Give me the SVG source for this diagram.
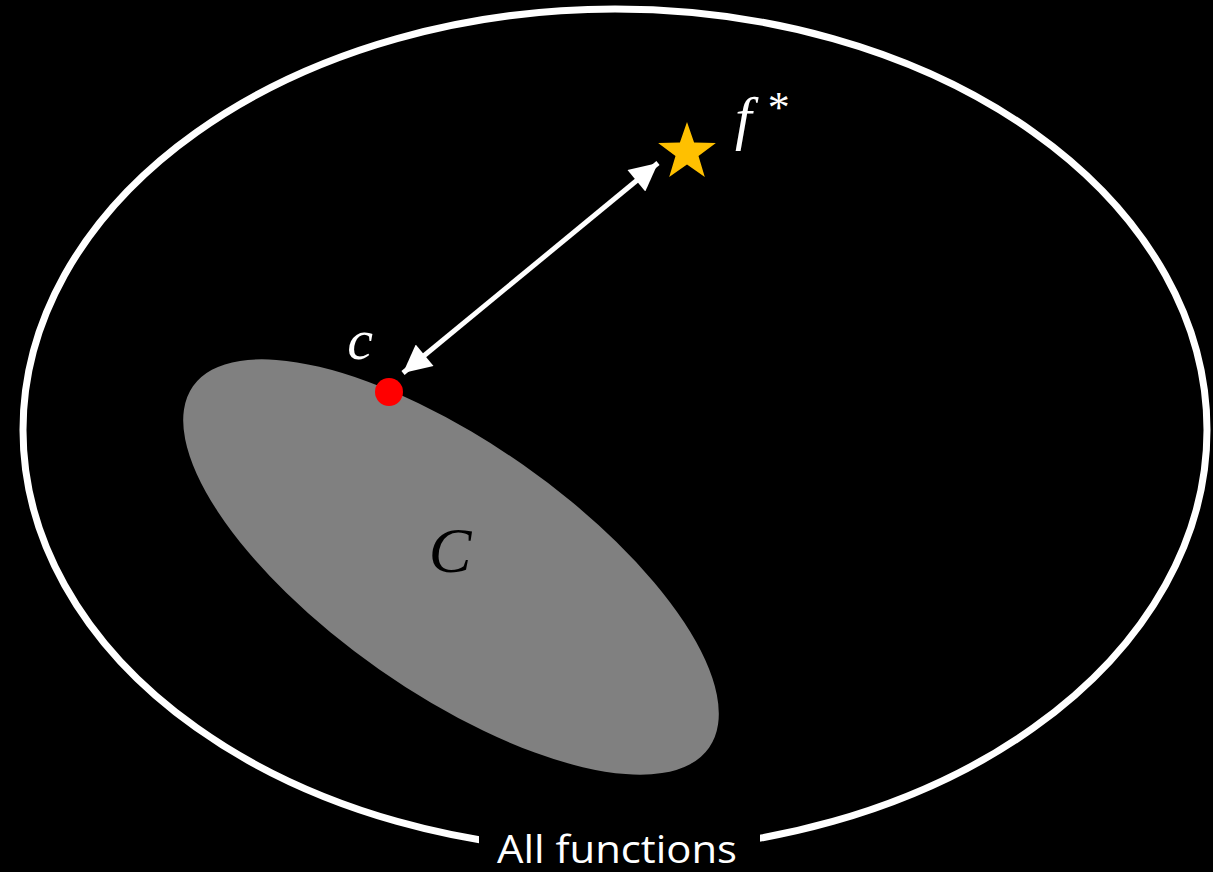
<svg xmlns="http://www.w3.org/2000/svg" width="1213" height="872" viewBox="0 0 1213 872">
<style>
.math{font-family:"Liberation Serif","DejaVu Serif",serif;font-style:italic}
.lbl{font-family:"Open Sans","Liberation Sans",sans-serif;fill:#fff}
</style>
<defs>
<marker id="ah" viewBox="0 0 10 10" refX="10" refY="5" markerWidth="6" markerHeight="5.6" markerUnits="strokeWidth" orient="auto-start-reverse">
<path d="M0,0 L10,5 L0,10 z" fill="#fff"/>
</marker>
</defs>
<rect width="1213" height="872" fill="#000"/>
<g id="all-functions">
<ellipse cx="615" cy="430" rx="592" ry="421" fill="none" stroke="#fff" stroke-width="7"/>
<rect x="479" y="812" width="281" height="60" fill="#000"/>
<text class="lbl" x="617" y="863" font-size="38" text-anchor="middle" textLength="240" lengthAdjust="spacingAndGlyphs">All functions</text>
</g>
<g id="set-C">
<ellipse cx="451" cy="567" rx="315" ry="125" transform="rotate(35 451 567)" fill="#808080"/>
<text class="math" x="450" y="572" font-size="64" text-anchor="middle" fill="#000">C</text>
</g>
<g id="point-c">
<circle cx="389" cy="392" r="14" fill="#ff0000"/>
<text class="math" x="360" y="359" font-size="58" text-anchor="middle" fill="#fff">c</text>
</g>
<g id="f-star">
<polygon points="687,122 694.1,142.6 715.9,143.0 698.5,156.1 704.8,177.0 687,164.5 669.2,177.0 675.5,156.1 658.1,143.0 679.9,142.6" fill="#FFC000"/>
<text class="math" x="735" y="138" font-size="60" fill="#fff">f<tspan font-style="normal" font-size="44" dx="16" dy="-16">*</tspan></text>
</g>
<g id="connectors">
<line x1="403" y1="373" x2="658" y2="163" stroke="#fff" stroke-width="5" marker-start="url(#ah)" marker-end="url(#ah)"/>
</g>
</svg>
